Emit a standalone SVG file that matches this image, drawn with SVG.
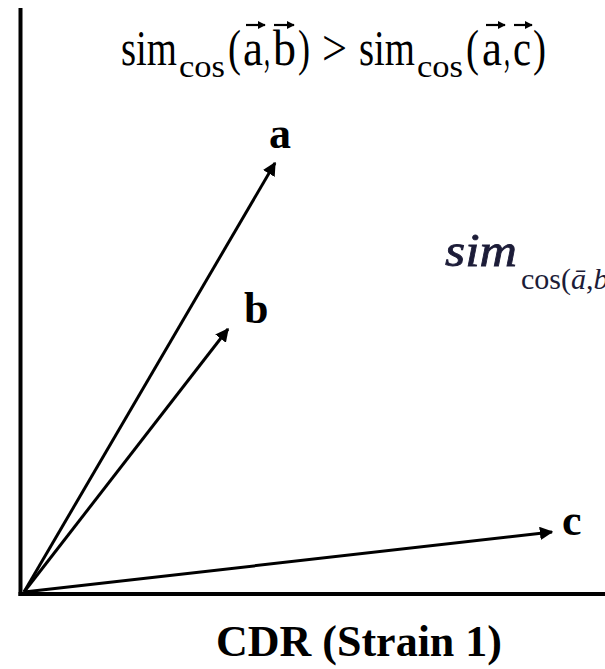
<svg xmlns="http://www.w3.org/2000/svg" width="605" height="669" viewBox="0 0 605 669">
<style>
.t{font-family:"Liberation Serif","Times New Roman",serif;fill:#000}
.m{font-size:50px}
.s{font-size:31px}
.lbl{font-family:"Liberation Serif","Times New Roman",serif;font-weight:bold;font-size:44px;fill:#000}
.vec{stroke:#000;stroke-width:3;fill:none}
.ov{stroke:#000;stroke-width:2.2;fill:none}
.ax{stroke:#000;stroke-width:4;fill:none}
.it{font-family:"Liberation Serif","Times New Roman",serif;fill:#1c1c38}
</style>
<defs>
<marker id="ah" viewBox="0 0 10 10" refX="9" refY="5" markerWidth="4.5" markerHeight="4.5" orient="auto" markerUnits="strokeWidth">
<path d="M0,0 L10,5 L0,10 z" fill="#000"/>
</marker>
<marker id="sh" viewBox="0 0 10 10" refX="9" refY="5" markerWidth="3.6" markerHeight="3.6" orient="auto" markerUnits="strokeWidth">
<path d="M0,0 L10,5 L0,10 z" fill="#000"/>
</marker>
</defs>
<rect width="605" height="669" fill="#fff"/>
<g id="axes">
<line class="ax" x1="20.5" y1="8" x2="20.5" y2="596"/>
<line class="ax" x1="18.5" y1="594" x2="605" y2="594"/>
</g>
<g id="connectors">
<line class="vec" x1="24" y1="592" x2="275" y2="163" marker-end="url(#ah)"/>
<line class="vec" x1="24" y1="592" x2="228" y2="329" marker-end="url(#ah)"/>
<line class="vec" x1="24" y1="592" x2="552" y2="532" marker-end="url(#ah)"/>
</g>
<g id="title">
<text class="t m" x="121" y="65" textLength="56" lengthAdjust="spacingAndGlyphs">sim</text>
<text class="t s" x="179" y="77" textLength="46" lengthAdjust="spacingAndGlyphs">cos</text>
<text class="t m" x="228" y="65" textLength="13" lengthAdjust="spacingAndGlyphs">(</text>
<text class="t m" x="243" y="65" textLength="20" lengthAdjust="spacingAndGlyphs">a</text>
<text class="t m" x="264" y="65" textLength="6" lengthAdjust="spacingAndGlyphs">,</text>
<text class="t m" x="273" y="65" textLength="23" lengthAdjust="spacingAndGlyphs">b</text>
<text class="t m" x="298" y="65" textLength="12" lengthAdjust="spacingAndGlyphs">)</text>
<text class="t m" x="322" y="65" textLength="25" lengthAdjust="spacingAndGlyphs" fill="#555">&gt;</text>
<text class="t m" x="359" y="65" textLength="56" lengthAdjust="spacingAndGlyphs">sim</text>
<text class="t s" x="417" y="77" textLength="46" lengthAdjust="spacingAndGlyphs">cos</text>
<text class="t m" x="466" y="65" textLength="13" lengthAdjust="spacingAndGlyphs">(</text>
<text class="t m" x="482" y="65" textLength="20" lengthAdjust="spacingAndGlyphs">a</text>
<text class="t m" x="504" y="65" textLength="6" lengthAdjust="spacingAndGlyphs">,</text>
<text class="t m" x="513" y="65" textLength="18" lengthAdjust="spacingAndGlyphs">c</text>
<text class="t m" x="533" y="65" textLength="13" lengthAdjust="spacingAndGlyphs">)</text>
<line class="ov" x1="246" y1="25" x2="265" y2="25" marker-end="url(#sh)"/>
<line class="ov" x1="274" y1="25" x2="294" y2="25" marker-end="url(#sh)"/>
<line class="ov" x1="486" y1="25" x2="505" y2="25" marker-end="url(#sh)"/>
<line class="ov" x1="514" y1="25" x2="532" y2="25" marker-end="url(#sh)"/>
</g>
<g id="node-a"><text class="lbl" x="269" y="148">a</text></g>
<g id="node-b"><text class="lbl" x="244" y="323">b</text></g>
<g id="node-c"><text class="lbl" x="562" y="535">c</text></g>
<g id="formula">
<text class="it" x="445" y="266" font-size="46" font-style="italic" stroke="#1c1c38" stroke-width="0.8" textLength="72" lengthAdjust="spacingAndGlyphs">sim</text>
<text class="it" x="521" y="289" font-size="30">cos(<tspan font-style="italic">ā</tspan>,<tspan font-style="italic">b</tspan></text>
</g>
<g id="xlabel"><text class="lbl" x="216" y="656" font-size="37">CDR (Strain 1)</text></g>
</svg>
